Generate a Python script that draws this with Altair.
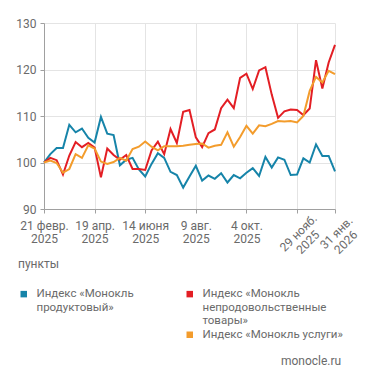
import altair as alt
import pandas as pd

weeks = list(range(47))
prod = [100, 101.8, 103.1, 103.1, 108.1, 106.5, 107.3, 105.3, 104.3, 109.8,
        106.2, 105.9, 99.4, 100.6, 101, 98.5, 97, 99.7, 102, 101,
        98, 97.3, 94.6, 97, 99.3, 96.1, 97.2, 96.5, 97.7, 95.7,
        97.3, 96.6, 97.8, 98.8, 97.1, 101.2, 98.9, 101.1, 100.6, 97.3,
        97.4, 100.9, 100, 103.9, 101.4, 101.4, 98.1]
nonfood = [100, 101, 100.5, 97.4, 101.5, 104.4, 103.3, 104.2, 103.2, 96.8,
           103, 101.6, 100.6, 101.6, 98.6, 98.6, 98.4, 102.6, 104.5, 101.8,
           107.2, 104.2, 110.9, 111.3, 105.4, 103.3, 106.3, 107.1, 111.7, 113.5,
           111.7, 118.2, 119.1, 115.8, 119.8, 120.5, 114.6, 109.6, 111, 111.4,
           111.3, 110.2, 111.6, 122, 115.9, 121.5, 125.3]
services = [100, 100.4, 99.9, 97.8, 98.6, 101.8, 101, 103.7, 103, 100.2,
            99.7, 100.1, 101, 100.4, 102.9, 103.4, 104.5, 103.4, 102.6, 103.5,
            103.5, 103.5, 103.6, 103.8, 104, 104.1, 103.2, 103.6, 103.8, 106.5,
            103.4, 105.5, 107.9, 106.2, 108, 107.8, 108.3, 108.9, 108.8, 108.9,
            108.6, 110, 115.4, 118.4, 117.2, 119.7, 119]

tick_idx = [0, 8, 16, 24, 32, 40, 46]
tick_line1 = ["21 февр.", "19 апр.", "14 июня", "9 авг.", "4 окт.", "29 нояб.", "31 янв."]
tick_line2 = ["2025", "2025", "2025", "2025", "2025", "2025", "2026"]
rotated_from = 5

y_ticks = [90, 100, 110, 120, 130]

# legend order is column-major: column 1 = prod, blank; column 2 = nonfood, services
series_keys = ["prod", "blank", "nonfood", "services"]
series_labels = ["Индекс «Монокль|продуктовый»| ",
                 "",
                 "Индекс «Монокль|непродовольственные|товары»",
                 "Индекс «Монокль услуги»"]
series_colors = ["#1684a9", "rgba(0,0,0,0)", "#e31e24", "#f39c2c"]

FONT = "Roboto"
GREY = "#6a6a6a"

df = pd.DataFrame({"week": weeks, "prod": prod, "nonfood": nonfood, "services": services})
long = df.melt("week", var_name="series", value_name="value")

parts = []
for i, l1, l2 in zip(tick_idx[:rotated_from], tick_line1[:rotated_from], tick_line2[:rotated_from]):
    parts.append(f"datum.value == {i} ? ['{l1}', '{l2}']")
label_expr = " : ".join(parts) + " : ''"

leg_parts = []
for k, lab in zip(series_keys, series_labels):
    leg_parts.append(f"datum.value == '{k}' ? split('{lab}', '|')")
leg_expr = " : ".join(leg_parts) + " : ''"

W, H = 291, 186

x_scale = alt.Scale(domain=[0, 46], nice=False, zero=False)

lines = alt.Chart(long).mark_line(strokeWidth=2, strokeJoin="miter").encode(
    x=alt.X("week:Q", scale=x_scale,
            axis=alt.Axis(values=tick_idx, labelExpr=label_expr, title=None,
                          grid=True, gridColor="#e4e4e4", domainColor="#a0a0a0",
                          tickColor="#a0a0a0", tickSize=4, labelPadding=7.5,
                          labelFont=FONT, labelFontSize=12, labelColor=GREY,
                          labelLineHeight=13.3, labelAngle=0, labelAlign="center",
                          labelFlush=False, labelOverlap=False)),
    y=alt.Y("value:Q", scale=alt.Scale(domain=[90, 130], nice=False, zero=False),
            axis=alt.Axis(values=y_ticks, title=None, grid=True, gridColor="#e4e4e4",
                          domainColor="#a0a0a0", tickColor="#a0a0a0", tickSize=4,
                          labelPadding=4, labelFont=FONT, labelFontSize=12,
                          labelColor=GREY)),
    color=alt.Color("series:N",
                    scale=alt.Scale(domain=series_keys, range=series_colors),
                    legend=alt.Legend(orient="none", legendX=-26, legendY=236,
                                      title="пункты", titleFont=FONT, titleFontSize=12,
                                      titleFontWeight="normal", titleColor=GREY,
                                      titlePadding=17, columns=2, columnPadding=47,
                                      rowPadding=-1, symbolType="square", symbolSize=9,
                                      symbolStrokeWidth=3.5, labelExpr=leg_expr,
                                      labelFont=FONT, labelFontSize=11.5,
                                      labelColor=GREY, labelOffset=7, labelLimit=300,
                                      padding=0)),
    order="week:Q",
)

rot_df = pd.DataFrame({
    "week": tick_idx[rotated_from:],
    "label": [a + "\n" + b for a, b in zip(tick_line1[rotated_from:], tick_line2[rotated_from:])],
})

rot_labels = alt.Chart(rot_df).mark_text(
    angle=315, align="center", baseline="middle", lineBreak="\n", lineHeight=13.3,
    font=FONT, fontSize=12, color=GREY, dx=2,
).encode(
    x=alt.X("week:Q", scale=x_scale),
    y=alt.value(234 - 22.7),
    text="label:N",
)

chart = alt.layer(lines, rot_labels).properties(
    width=W, height=H,
    autosize=alt.AutoSizeParams(type="none"),
    padding={"left": 36, "top": 15, "right": 28, "bottom": 166},
    title=alt.Title("monocle.ru", orient="bottom", anchor="end", font=FONT,
                    fontSize=12, fontWeight="normal", color=GREY, dx=-23, offset=12),
).configure_view(stroke=None)

chart.save("out.html", embed_options={"renderer": "svg", "actions": False})
